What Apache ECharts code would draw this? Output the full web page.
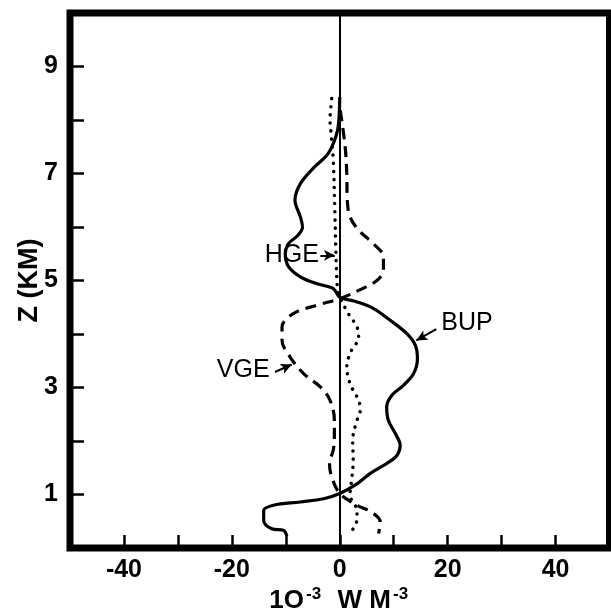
<!DOCTYPE html>
<html>
<head>
<meta charset="utf-8">
<script src="https://cdn.jsdelivr.net/npm/echarts@6/dist/echarts.min.js"></script>
<style>html,body{margin:0;padding:0;background:#fff}#c{width:611px;height:610px}</style>
</head>
<body>
<div id="c"></div>
<script>
// ---- data: [value (1e-3 W m^-3), height Z (km)] ----
const bupData = [
  [0.0, 8.43], [-0.1, 8.1], [-0.4, 7.81], [-1.2, 7.56], [-2.4, 7.34], [-4.9, 7.1],
  [-7.3, 6.81], [-8.3, 6.5], [-7.3, 6.19], [-6.9, 6.0], [-7.7, 5.85], [-9.5, 5.69],
  [-10.1, 5.5], [-9.5, 5.26], [-7.3, 5.07], [-4.2, 4.94], [-1.2, 4.85], [0.0, 4.69],
  [3.2, 4.6], [6.2, 4.48], [9.3, 4.26], [12.4, 4.01], [14.0, 3.79], [14.4, 3.54],
  [13.7, 3.26], [11.8, 3.04], [9.7, 2.86], [8.7, 2.64], [9.0, 2.39], [10.3, 2.14],
  [11.2, 1.92], [10.6, 1.73], [8.7, 1.58], [5.6, 1.39], [3.2, 1.2], [0.0, 1.02],
  [-3.0, 0.92], [-7.3, 0.86], [-12.3, 0.8], [-14.1, 0.7], [-14.1, 0.52], [-12.6, 0.36],
  [-10.4, 0.33], [-9.8, 0.22]
];
const vgeData = [
  [0.1, 8.18], [1.0, 7.5], [1.3, 7.0], [1.4, 6.5], [1.9, 6.19], [3.5, 5.94],
  [6.2, 5.69], [8.1, 5.44], [8.1, 5.19], [6.9, 5.0], [3.8, 4.83], [0.0, 4.66],
  [-4.2, 4.54], [-8.6, 4.38], [-10.7, 4.13], [-10.7, 3.88], [-9.2, 3.57], [-6.7, 3.26],
  [-3.6, 3.01], [-1.8, 2.76], [-1.0, 2.39], [-1.0, 2.1], [-1.2, 1.83], [-1.9, 1.58],
  [-1.5, 1.33], [0.0, 1.02], [3.2, 0.8], [5.9, 0.67], [7.5, 0.49], [7.2, 0.27]
];
const hgeData = [
  [-1.5, 8.4], [-1.8, 8.0], [-1.6, 7.75], [-1.2, 7.25], [-0.9, 6.25], [-0.7, 5.5],
  [-0.4, 4.82], [0.0, 4.69], [1.6, 4.38], [3.2, 4.13], [3.5, 3.92], [2.2, 3.7],
  [1.3, 3.39], [1.9, 3.07], [3.5, 2.76], [3.8, 2.58], [3.0, 2.33], [2.4, 2.01],
  [2.5, 1.64], [2.2, 1.27], [1.9, 0.99], [3.2, 0.7], [3.2, 0.55], [2.5, 0.36], [1.6, 0.27]
];
// ---- annotation labels [x, z] and arrows [[x1,z1],[x2,z2]] ----
const labelNames = ['BUP', 'VGE', 'HGE'];
const labelPos = [[23.6, 4.2], [-17.9, 3.32], [-8.9, 5.47]];
const arrowLines = [
  [[17.9, 4.09], [14.2, 3.88]],
  [[-12.0, 3.29], [-8.9, 3.43]],
  [[-3.6, 5.47], [-0.9, 5.47]]
];
// ---- axis ----
const xTickLabels = [-40, -20, 0, 20, 40];
const yTickLabels = [1, 3, 5, 7, 9];
const xRange = [-50, 50];
const yRange = [0, 10];

const FONT = '"Liberation Sans", Arial, Helvetica, sans-serif';
const chart = echarts.init(document.getElementById('c'), null, {renderer: 'canvas'});

function annot(i) {
  return {
    markPoint: {
      symbol: 'circle', symbolSize: 0, silent: true,
      data: [{coord: labelPos[i], value: labelNames[i]}],
      label: {show: true, position: 'inside', formatter: labelNames[i],
        color: '#000', fontSize: 25, fontFamily: FONT}
    },
    markLine: {
      silent: true, symbol: ['none', 'arrow'], symbolSize: [8, 11],
      label: {show: false},
      lineStyle: {color: '#000', width: 2, type: 'solid'},
      data: [[{coord: arrowLines[i][0]}, {coord: arrowLines[i][1]}]]
    }
  };
}

const option = {
  animation: false,
  backgroundColor: '#fff',
  grid: {left: 70, right: 1.5, top: 13, bottom: 62, show: true,
    containLabel: false, outerBoundsMode: 'none',
    borderColor: '#000', borderWidth: 7, backgroundColor: 'transparent'},
  xAxis: {
    type: 'value', min: xRange[0], max: xRange[1], interval: 10,
    axisLine: {show: false, onZero: false},
    axisTick: {show: true, inside: true, length: 13, lineStyle: {color: '#000', width: 2.5}},
    splitLine: {show: false},
    axisLabel: {
      margin: 10, color: '#000', fontSize: 25, fontWeight: 'bold', fontFamily: FONT,
      formatter: v => xTickLabels.includes(v) ? String(v) : ''
    },
    name: '{b|1O}{s|-3}{b|  W M}{s|-3}',
    nameLocation: 'middle', nameGap: 38, nameMoveOverlap: false,
    nameTextStyle: {
      rich: {
        b: {fontSize: 26, fontWeight: 'bold', fontFamily: FONT, color: '#000'},
        s: {fontSize: 17, fontWeight: 'bold', fontFamily: FONT, color: '#000', padding: [0, 2, 12, 2]}
      }
    }
  },
  yAxis: {
    type: 'value', min: yRange[0], max: yRange[1], interval: 1,
    axisLine: {show: false, onZero: false},
    axisTick: {show: true, inside: true, length: 14, lineStyle: {color: '#000', width: 2.5}},
    splitLine: {show: false},
    axisLabel: {
      margin: 12, color: '#000', fontSize: 25, fontWeight: 'bold', fontFamily: FONT,
      formatter: v => yTickLabels.includes(v) ? String(v) : ''
    },
    name: 'Z (KM)', nameLocation: 'middle', nameGap: 27, nameRotate: 90, nameMoveOverlap: false,
    nameTextStyle: {fontSize: 27, fontWeight: 'bold', fontFamily: FONT, color: '#000'}
  },
  series: [
    Object.assign({
      name: 'BUP', type: 'line', data: bupData, smooth: 0.35, showSymbol: false,
      lineStyle: {color: '#000', width: 3.2}, z: 3
    }, annot(0)),
    Object.assign({
      name: 'VGE', type: 'line', data: vgeData, smooth: 0.35, showSymbol: false,
      lineStyle: {color: '#000', width: 3.2, type: [11, 7]}, z: 3
    }, annot(1)),
    Object.assign({
      name: 'HGE', type: 'line', data: hgeData, smooth: 0.35, showSymbol: false,
      lineStyle: {color: '#000', width: 3.5, type: [0.1, 8], cap: 'round'}, z: 3
    }, annot(2)),
    {
      name: 'zero', type: 'line', data: [], silent: true,
      markLine: {
        silent: true, symbol: 'none', label: {show: false},
        lineStyle: {color: '#000', width: 2, type: 'solid'},
        data: [{xAxis: 0}]
      }
    }
  ]
};
chart.setOption(option);
</script>
</body>
</html>
